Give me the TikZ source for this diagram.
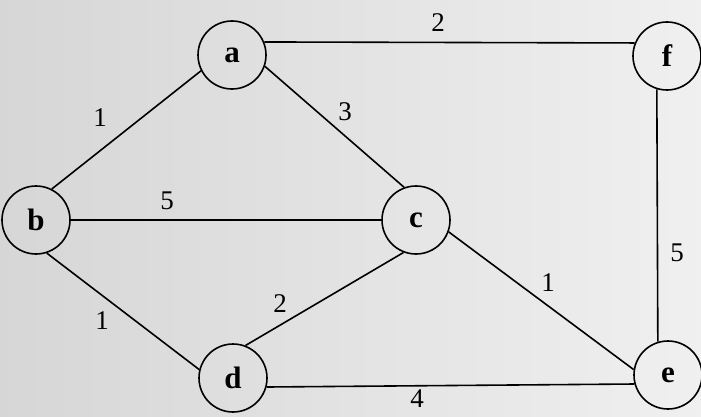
\documentclass[tikz,border=0pt]{standalone}
\usepackage{fontspec}
\setmainfont{Liberation Serif}

\begin{document}
\begin{tikzpicture}[x=1pt,y=-1pt,
  vertex/.style={circle,draw,line width=1.6pt,minimum size=68pt,inner sep=0pt,
    font=\fontsize{31}{31}\selectfont\bfseries},
  weight/.style={inner sep=0pt,font=\fontsize{27}{27}\selectfont},
  edge/.style={line width=1.6pt}]
  % scanned page
  \shade[left color=black!16,right color=black!6] (0,0) rectangle (701,417);
  \useasboundingbox (0,0) rectangle (701,417);
  % vertices
  \node[vertex] (a) at (232,55) {a};
  \node[vertex] (f) at (667,56) {f};
  \node[vertex] (b) at (36,220) {b};
  \node[vertex] (c) at (416,220) {c};
  \node[vertex] (d) at (233,378) {d};
  \node[vertex] (e) at (668,375) {e};
  % edges
  \draw[edge] (a.22) -- (f.158);
  \draw[edge] (a.207) -- (b.63);
  \draw[edge] (a.341) -- (c.110);
  \draw[edge] (b) -- (c);
  \draw[edge] (b.288) -- (d.166);
  \draw[edge] (c.249) -- (d.69);
  \draw[edge] (c.340) -- (e.171);
  \draw[edge] (d.-15) -- (e.195);
  \draw[edge] (f.253) -- (e.107);
  % weights
  \node[weight] (waf) at (438,23) {2};
  \node[weight] (wab) at (100,118) {1};
  \node[weight] (wac) at (345,112) {3};
  \node[weight] (wbc) at (167,201) {5};
  \node[weight] (wbd) at (102,321) {1};
  \node[weight] (wcd) at (280,304) {2};
  \node[weight] (wce) at (548,283) {1};
  \node[weight] (wfe) at (677,253) {5};
  \node[weight] (wde) at (417,399) {4};
\end{tikzpicture}
\end{document}
